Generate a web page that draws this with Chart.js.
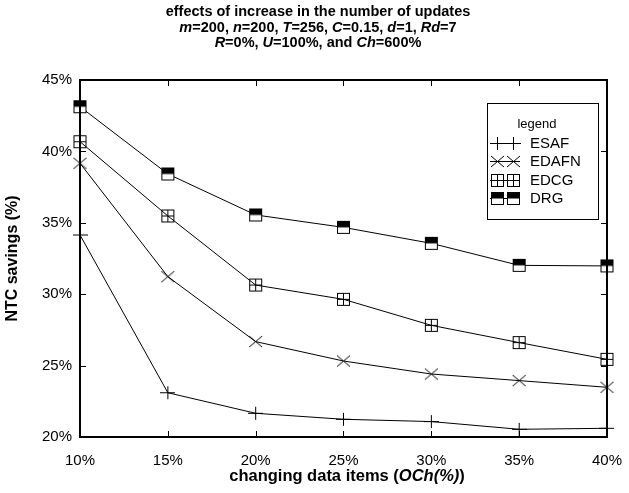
<!DOCTYPE html>
<html lang="en">
<head>
    <meta charset="UTF-8">
    <title>NTC savings vs changing data items</title>
    <script src="https://cdn.jsdelivr.net/npm/chart.js"></script>
    <style>
        body {
            margin: 0;
            padding: 0;
            background: #ffffff;
        }

        .chart-box {
            width: 629px;
            height: 493px;
            position: relative;
        }
    </style>
</head>
<body>
    <div class="chart-box">
        <canvas id="ntcChart"></canvas>
    </div>

    <script>
        // data
        const categories = ['10%', '15%', '20%', '25%', '30%', '35%', '40%'];
        const esaf = [34.15, 23.1, 21.66, 21.24, 21.08, 20.54, 20.61];
        const edafn = [39.17, 31.23, 26.68, 25.32, 24.41, 23.95, 23.48];
        const edcg = [40.68, 35.48, 30.64, 29.64, 27.82, 26.61, 25.44];
        const drg = [43.13, 38.42, 35.55, 34.68, 33.56, 32.02, 31.98];
        const seriesNames = ['ESAF', 'EDAFN', 'EDCG', 'DRG'];
        const yTicks = [20, 25, 30, 35, 40, 45];

        const FONT = '"Liberation Sans", Arial, sans-serif';

        // marker images, gnuplot style
        function makeMarker(kind) {
            const s = 15;
            const c = document.createElement('canvas');
            c.width = s;
            c.height = s;
            const g = c.getContext('2d');
            g.strokeStyle = '#000';
            g.fillStyle = '#000';
            g.lineWidth = 1;
            const m = 7.5;
            if (kind === 'plus') {
                g.beginPath();
                g.moveTo(0, m); g.lineTo(15, m);
                g.moveTo(m, 1); g.lineTo(m, 14);
                g.stroke();
            } else if (kind === 'cross') {
                g.beginPath();
                g.moveTo(1, 2); g.lineTo(14, 13);
                g.moveTo(14, 2); g.lineTo(1, 13);
                g.stroke();
            } else if (kind === 'boxplus') {
                g.strokeRect(1.5, 1.5, 12, 12);
                g.beginPath();
                g.moveTo(1.5, m); g.lineTo(13.5, m);
                g.moveTo(m, 1.5); g.lineTo(m, 13.5);
                g.stroke();
            } else {
                g.fillStyle = '#fff';
                g.fillRect(1.5, 1.5, 12, 12);
                g.fillStyle = '#000';
                g.fillRect(1, 1, 13, 6.5);
                g.strokeRect(1.5, 1.5, 12, 12);
            }
            return c;
        }

        const markers = [makeMarker('plus'), makeMarker('cross'), makeMarker('boxplus'), makeMarker('halfbox')];

        // draws one line of mixed normal / italic bold text centred on x
        function richLine(ctx, parts, cx, y, size) {
            let w = 0;
            parts.forEach(p => {
                ctx.font = (p[1] ? 'italic ' : '') + 'bold ' + size + 'px ' + FONT;
                w += ctx.measureText(p[0]).width;
            });
            let x = cx - w / 2;
            parts.forEach(p => {
                ctx.font = (p[1] ? 'italic ' : '') + 'bold ' + size + 'px ' + FONT;
                ctx.fillText(p[0], x, y);
                x += ctx.measureText(p[0]).width;
            });
        }

        const gnuplotLook = {
            id: 'gnuplotLook',
            afterDraw(chart) {
                const ctx = chart.ctx;
                const a = chart.chartArea;
                const xs = chart.scales.x;
                const ys = chart.scales.y;
                ctx.save();
                ctx.strokeStyle = '#000';
                ctx.fillStyle = '#000';

                // inward ticks on all four sides
                ctx.lineWidth = 1;
                ctx.beginPath();
                categories.forEach((c, i) => {
                    const px = Math.round(xs.getPixelForValue(i)) + 0.5;
                    ctx.moveTo(px, a.bottom); ctx.lineTo(px, a.bottom - 6);
                    ctx.moveTo(px, a.top); ctx.lineTo(px, a.top + 6);
                });
                yTicks.forEach(v => {
                    const py = Math.round(ys.getPixelForValue(v)) + 0.5;
                    ctx.moveTo(a.left, py); ctx.lineTo(a.left + 6, py);
                    ctx.moveTo(a.right, py); ctx.lineTo(a.right - 6, py);
                });
                ctx.stroke();

                // frame
                ctx.lineWidth = 2;
                ctx.strokeRect(a.left, a.top, a.right - a.left, a.bottom - a.top);

                // title
                ctx.textBaseline = 'middle';
                ctx.textAlign = 'left';
                richLine(ctx, [['effects of increase in the number of updates', false]], 318, 12, 14.5);
                richLine(ctx, [['m', true], ['=200, ', false], ['n', true], ['=200, ', false], ['T', true], ['=256, ', false],
                    ['C', true], ['=0.15, ', false], ['d', true], ['=1, ', false], ['Rd', true], ['=7', false]], 318, 27.5, 14.5);
                richLine(ctx, [['R', true], ['=0%, ', false], ['U', true], ['=100%, and ', false], ['Ch', true], ['=600%', false]], 318, 42.5, 14.5);

                // x axis title
                richLine(ctx, [['changing data items (', false], ['OCh(%)', true], [')', false]], 347, 476, 16.5);

                // legend box
                ctx.lineWidth = 1;
                ctx.strokeRect(487.5, 103.5, 111, 116);
                ctx.font = '13px ' + FONT;
                ctx.textAlign = 'center';
                ctx.fillText('legend', 537, 124);
                ctx.textAlign = 'left';
                ctx.font = '15px ' + FONT;
                seriesNames.forEach((name, i) => {
                    const y = 143 + i * 18.3;
                    const ly = Math.round(y) + 0.5;
                    ctx.beginPath();
                    ctx.moveTo(490, ly); ctx.lineTo(520, ly);
                    ctx.stroke();
                    ctx.drawImage(markers[i], 490, Math.round(y) - 7);
                    ctx.drawImage(markers[i], 506, Math.round(y) - 7);
                    ctx.fillText(name, 530, y + 1);
                });
                ctx.restore();
            }
        };

        const ctx = document.getElementById('ntcChart').getContext('2d');

        new Chart(ctx, {
            type: 'line',
            data: {
                labels: categories,
                datasets: [esaf, edafn, edcg, drg].map((d, i) => ({
                    label: seriesNames[i],
                    data: d,
                    borderColor: '#000',
                    borderWidth: 1,
                    fill: false,
                    tension: 0,
                    pointStyle: markers[i],
                    pointRadius: 7,
                })),
            },
            options: {
                responsive: true,
                maintainAspectRatio: false,
                animation: false,
                layout: {
                    padding: { top: 80, right: 17, left: 0, bottom: 0 },
                },
                plugins: {
                    legend: { display: false },
                    title: { display: false },
                    tooltip: { enabled: false },
                },
                scales: {
                    x: {
                        type: 'category',
                        offset: false,
                        grid: { display: false },
                        border: { display: false },
                        ticks: {
                            color: '#000',
                            font: { family: FONT, size: 15 },
                            padding: 7,
                            maxRotation: 0,
                        },
                        afterFit(scale) { scale.height = 56; },
                    },
                    y: {
                        min: 20,
                        max: 45,
                        grid: { display: false },
                        border: { display: false },
                        afterBuildTicks(scale) {
                            scale.ticks = yTicks.map(v => ({ value: v }));
                        },
                        ticks: {
                            color: '#000',
                            font: { family: FONT, size: 15 },
                            padding: 0,
                            callback: v => v + '%',
                        },
                        title: {
                            display: true,
                            text: 'NTC savings (%)',
                            color: '#000',
                            font: { family: FONT, size: 16, weight: 'bold' },
                            padding: { top: 3, bottom: 0 },
                        },
                        afterFit(scale) { scale.width = 80; },
                    },
                },
            },
            plugins: [gnuplotLook],
        });
    </script>
</body>
</html>
